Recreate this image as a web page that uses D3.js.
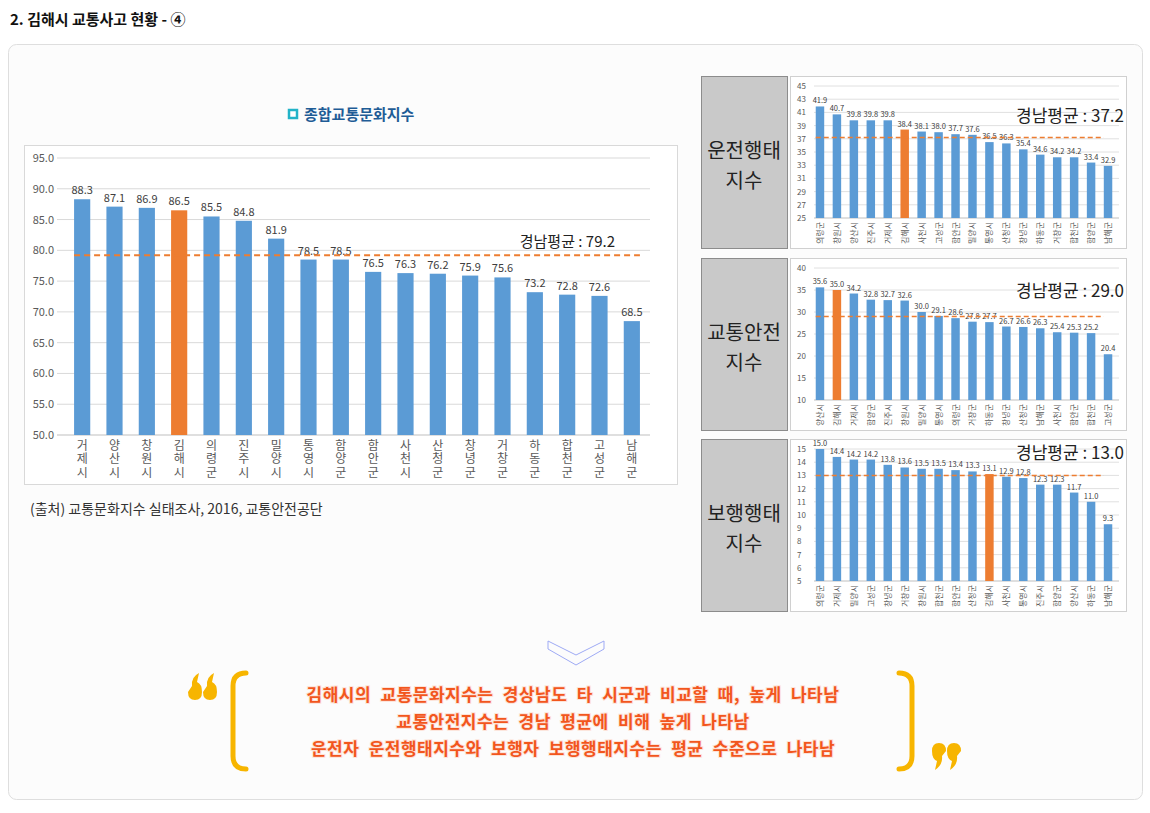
<!DOCTYPE html>
<html>
<head>
<meta charset="utf-8">
<script src="https://cdn.jsdelivr.net/npm/d3@7"></script>
<style>
  body { margin: 0; background: #fff; font-family: "Noto Sans CJK KR", "Noto Sans", sans-serif; }
  text { font-family: "Noto Sans CJK KR", "Noto Sans", sans-serif; }
</style>
</head>
<body>
<div id="chart"></div>
<script>
// ---- data ----
const MAIN_NAMES = ["거제시","양산시","창원시","김해시","의령군","진주시","밀양시","통영시","함양군","함안군","사천시","산청군","창녕군","거창군","하동군","합천군","고성군","남해군"];
const MAIN_VALUES = [88.3,87.1,86.9,86.5,85.5,84.8,81.9,78.5,78.5,76.5,76.3,76.2,75.9,75.6,73.2,72.8,72.6,68.5];
const MAIN_AVG = 79.2;
const MAIN_TICKS = [50,55,60,65,70,75,80,85,90,95];

const DRIVE_NAMES = ["의령군","창원시","양산시","진주시","거제시","김해시","사천시","고성군","함안군","밀양시","통영시","산청군","창녕군","하동군","거창군","합천군","함양군","남해군"];
const DRIVE_VALUES = [41.9,40.7,39.8,39.8,39.8,38.4,38.1,38.0,37.7,37.6,36.5,36.3,35.4,34.6,34.2,34.2,33.4,32.9];
const DRIVE_AVG = 37.2;
const DRIVE_TICKS = [25,27,29,31,33,35,37,39,41,43,45];

const SAFE_NAMES = ["양산시","김해시","거제시","함양군","진주시","창원시","밀양시","통영시","의령군","거창군","하동군","창녕군","산청군","남해군","사천시","함안군","합천군","고성군"];
const SAFE_VALUES = [35.6,35.0,34.2,32.8,32.7,32.6,30.0,29.1,28.6,27.8,27.7,26.7,26.6,26.3,25.4,25.3,25.2,20.4];
const SAFE_AVG = 29.0;
const SAFE_TICKS = [10,15,20,25,30,35,40];

const WALK_NAMES = ["의령군","거제시","밀양시","고성군","창녕군","거창군","창원시","합천군","함안군","산청군","김해시","사천시","통영시","진주시","함양군","양산시","하동군","남해군"];
const WALK_VALUES = [15.0,14.4,14.2,14.2,13.8,13.6,13.5,13.5,13.4,13.3,13.1,12.9,12.8,12.3,12.3,11.7,11.0,9.3];
const WALK_AVG = 13.0;
const WALK_TICKS = [5,6,7,8,9,10,11,12,13,14,15];

const HIGHLIGHT = "김해시";
const SUMMARY = [
  "김해시의 교통문화지수는 경상남도 타 시군과 비교할 때, 높게 나타남",
  "교통안전지수는 경남 평균에 비해 높게 나타남",
  "운전자 운전행태지수와 보행자 보행행태지수는 평균 수준으로 나타남"
];

const BLUE = "#5b9bd5";
const ORANGE = "#ed7d31";

const svg = d3.select("#chart").append("svg")
  .attr("width", 1150).attr("height", 813);

// page title
svg.append("text").attr("x", 10).attr("y", 25)
  .attr("font-size", 15).attr("font-weight", "bold").attr("fill", "#111")
  .text("2. 김해시 교통사고 현황 - ④");

// outer panel
svg.append("rect").attr("x", 8.5).attr("y", 44.5).attr("width", 1134).attr("height", 755)
  .attr("rx", 8).attr("fill", "#fcfcfc").attr("stroke", "#dedede");

// ---------- main chart ----------
svg.append("rect").attr("x", 289).attr("y", 110).attr("width", 8).attr("height", 8)
  .attr("fill", "#fff").attr("stroke", "#22b3c8").attr("stroke-width", 2.5);
svg.append("text").attr("x", 304).attr("y", 120)
  .attr("font-size", 15).attr("font-weight", "bold").attr("fill", "#1f5c96")
  .text("종합교통문화지수");

svg.append("rect").attr("x", 24.5).attr("y", 145.5).attr("width", 653).attr("height", 339)
  .attr("fill", "#fff").attr("stroke", "#d9d9d9");

const mx = d3.scaleBand().domain(MAIN_NAMES).range([66, 648]).paddingInner(0.5).paddingOuter(0.25);
const my = d3.scaleLinear().domain([50, 95]).range([435, 158]);

const mg = svg.append("g");
mg.selectAll("line.grid").data(MAIN_TICKS).enter().append("line")
  .attr("x1", 57).attr("x2", 650)
  .attr("y1", d => my(d)).attr("y2", d => my(d))
  .attr("stroke", d => d === 50 ? "#bfbfbf" : "#d9d9d9").attr("stroke-width", 1);
mg.selectAll("text.tick").data(MAIN_TICKS).enter().append("text")
  .attr("x", 54).attr("y", d => my(d) + 4)
  .attr("text-anchor", "end").attr("font-size", 11).attr("fill", "#595959")
  .text(d => d.toFixed(1));

const mainData = MAIN_NAMES.map((n, i) => ({name: n, value: MAIN_VALUES[i]}));
mg.selectAll("rect.bar").data(mainData).enter().append("rect")
  .attr("x", d => mx(d.name)).attr("width", mx.bandwidth())
  .attr("y", d => my(d.value)).attr("height", d => my(50) - my(d.value))
  .attr("fill", d => d.name === HIGHLIGHT ? ORANGE : BLUE);
mg.selectAll("text.val").data(mainData).enter().append("text")
  .attr("x", d => mx(d.name) + mx.bandwidth() / 2).attr("y", d => my(d.value) - 5)
  .attr("text-anchor", "middle").attr("font-size", 11).attr("fill", "#404040")
  .text(d => d.value.toFixed(1));
// vertical (upright, stacked) category labels
mg.selectAll("text.cat").data(mainData).enter().append("text")
  .attr("x", d => mx(d.name) + mx.bandwidth() / 2).attr("y", 439)
  .style("writing-mode", "vertical-rl").style("text-orientation", "upright")
  .attr("letter-spacing", 1.5)
  .attr("font-size", 12).attr("fill", "#595959")
  .text(d => d.name);

mg.append("line").attr("x1", mx(MAIN_NAMES[0])).attr("x2", mx(MAIN_NAMES[17]) + mx.bandwidth())
  .attr("y1", my(MAIN_AVG)).attr("y2", my(MAIN_AVG))
  .attr("stroke", ORANGE).attr("stroke-width", 2).attr("stroke-dasharray", "6,4");
mg.append("text").attr("x", 615).attr("y", my(MAIN_AVG) - 8)
  .attr("text-anchor", "end").attr("font-size", 15).attr("fill", "#222")
  .text("경남평균 : " + MAIN_AVG.toFixed(1));

svg.append("text").attr("x", 30).attr("y", 514)
  .attr("font-size", 14).attr("fill", "#333")
  .text("(출처) 교통문화지수 실태조사, 2016, 교통안전공단");

// ---------- small charts ----------
const SMALL = [
  {label: ["운전행태", "지수"], names: DRIVE_NAMES, values: DRIVE_VALUES, avg: DRIVE_AVG, ticks: DRIVE_TICKS, top: 76, avgY: 122},
  {label: ["교통안전", "지수"], names: SAFE_NAMES, values: SAFE_VALUES, avg: SAFE_AVG, ticks: SAFE_TICKS, top: 258, avgY: 297},
  {label: ["보행행태", "지수"], names: WALK_NAMES, values: WALK_VALUES, avg: WALK_AVG, ticks: WALK_TICKS, top: 439, avgY: 459}
];

SMALL.forEach(c => {
  const g = svg.append("g");
  const t0 = c.top;
  // grey label box
  g.append("rect").attr("x", 701.5).attr("y", t0 + 0.5).attr("width", 86).attr("height", 172)
    .attr("fill", "#c9c9c9").attr("stroke", "#8c8c8c");
  c.label.forEach((s, k) => {
    g.append("text").attr("x", 744).attr("y", t0 + 82 + k * 30)
      .attr("text-anchor", "middle").attr("font-size", 20).attr("fill", "#222").text(s);
  });
  // chart box
  g.append("rect").attr("x", 790.5).attr("y", t0 + 0.5).attr("width", 336).attr("height", 172)
    .attr("fill", "#fff").attr("stroke", "#d0d0d0");

  const x = d3.scaleBand().domain(c.names).range([811.5, 1116.5]).paddingInner(0.5).paddingOuter(0.25);
  const y = d3.scaleLinear().domain(d3.extent(c.ticks)).range([t0 + 142, t0 + 10]);

  g.selectAll("line.grid").data(c.ticks).enter().append("line")
    .attr("x1", 814).attr("x2", 1119)
    .attr("y1", d => y(d)).attr("y2", d => y(d))
    .attr("stroke", (d, i) => i === 0 ? "#bfbfbf" : "#e0e0e0");
  g.selectAll("text.tick").data(c.ticks).enter().append("text")
    .attr("x", 797).attr("y", d => y(d) + 3)
    .attr("font-size", 8).attr("fill", "#595959").text(d => d);

  const data = c.names.map((n, i) => ({name: n, value: c.values[i]}));
  g.selectAll("rect.bar").data(data).enter().append("rect")
    .attr("x", d => x(d.name)).attr("width", x.bandwidth())
    .attr("y", d => y(d.value)).attr("height", d => y(c.ticks[0]) - y(d.value))
    .attr("fill", d => d.name === HIGHLIGHT ? ORANGE : BLUE);
  g.selectAll("text.val").data(data).enter().append("text")
    .attr("x", d => x(d.name) + x.bandwidth() / 2).attr("y", d => y(d.value) - 3)
    .attr("text-anchor", "middle").attr("font-size", 7.5).attr("fill", "#404040")
    .text(d => d.value.toFixed(1));
  g.selectAll("text.cat").data(data).enter().append("text")
    .attr("transform", d => "translate(" + (x(d.name) + x.bandwidth() / 2 + 3) + "," + (y(c.ticks[0]) + 4) + ") rotate(-90)")
    .attr("text-anchor", "end").attr("font-size", 8).attr("fill", "#595959")
    .text(d => d.name);

  g.append("line").attr("x1", x(c.names[0])).attr("x2", x(c.names[17]))
    .attr("y1", y(c.avg)).attr("y2", y(c.avg))
    .attr("stroke", ORANGE).attr("stroke-width", 1.5).attr("stroke-dasharray", "5,3");
  g.append("text").attr("x", 1124).attr("y", c.avgY)
    .attr("text-anchor", "end").attr("font-size", 17).attr("fill", "#222")
    .text("경남평균 : " + c.avg.toFixed(1));
});

// ---------- chevron ----------
svg.append("path")
  .attr("d", "M548,641 L576,655 L604,641 L604,649 L576,665 L548,649 Z")
  .attr("fill", "none").attr("stroke", "#9eaaf5").attr("stroke-width", 1);

// ---------- summary ----------
const QY = "#f7b500";
svg.append("path").attr("d", "M246,673 Q233,673 233,686 L233,756 Q233,769 246,769")
  .attr("fill", "none").attr("stroke", QY).attr("stroke-width", 5).attr("stroke-linecap", "round");
svg.append("path").attr("d", "M899,673 Q912,673 912,686 L912,756 Q912,769 899,769")
  .attr("fill", "none").attr("stroke", QY).attr("stroke-width", 5).attr("stroke-linecap", "round");

// opening / closing quote blobs
function openQuote(x0) {
  return "M" + (x0 + 4) + ",686 Q" + (x0 + 3) + ",677 " + (x0 + 11) + ",673 L" + (x0 + 9) + ",682 Q" + (x0 + 14) + ",684 " + (x0 + 14) + ",692 Q" + (x0 + 14) + ",700 " + (x0 + 7) + ",700 Q" + x0 + ",700 " + x0 + ",692 Z";
}
function closeQuote(x0) {
  return "M" + (x0 + 10) + ",756 Q" + (x0 + 11) + ",765 " + (x0 + 3) + ",770 L" + (x0 + 5) + ",761 Q" + x0 + ",759 " + x0 + ",751 Q" + x0 + ",743 " + (x0 + 7) + ",743 Q" + (x0 + 14) + ",743 " + (x0 + 14) + ",751 Z";
}
svg.append("path").attr("d", openQuote(188)).attr("fill", QY);
svg.append("path").attr("d", openQuote(203)).attr("fill", QY);
svg.append("path").attr("d", closeQuote(932)).attr("fill", QY);
svg.append("path").attr("d", closeQuote(947)).attr("fill", QY);

svg.selectAll("text.summary").data(SUMMARY).enter().append("text")
  .attr("x", 573).attr("y", (d, i) => 701 + i * 27)
  .attr("text-anchor", "middle").attr("font-size", 17).attr("font-weight", "bold")
  .attr("letter-spacing", 0.5).attr("word-spacing", 5)
  .attr("fill", "#f2561d").attr("stroke", "#fde3d8").attr("stroke-width", 2)
  .attr("paint-order", "stroke")
  .text(d => d);
</script>
</body>
</html>
